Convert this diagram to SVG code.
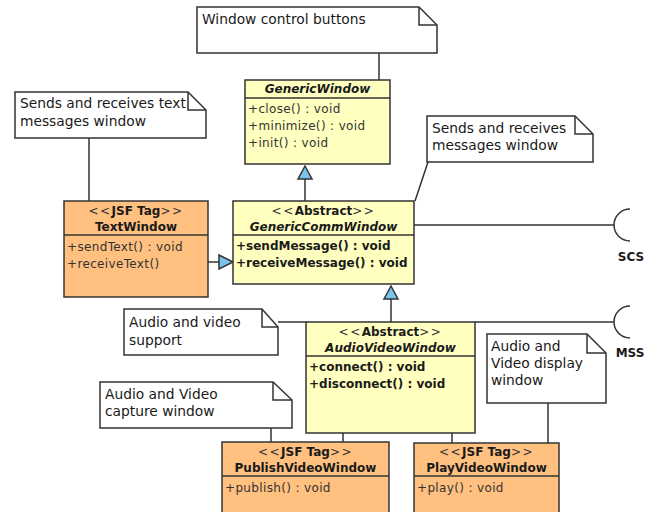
<svg xmlns="http://www.w3.org/2000/svg" width="652" height="512" viewBox="0 0 652 512">
<style>
text{font-family:"DejaVu Sans","Liberation Sans",sans-serif;fill:#1a1a1a}
.note{fill:#fff;stroke:#333;stroke-width:1.5}
.nt{font-size:13.8px}
.cls{stroke:#333;stroke-width:1.5}
.yel{fill:#ffffc0}
.org{fill:#ffc080}
.div{stroke:#333;stroke-width:1.5}
.op{font-size:12px;fill:#333;letter-spacing:0.35px}
.opb{font-size:12px;font-weight:bold}
.st{font-size:12px;text-anchor:middle}
.ab{letter-spacing:1.5px;fill:#333}
.b{font-weight:bold}
.bi{font-weight:bold;font-style:italic}
.ln{stroke:#333;stroke-width:1.5;fill:none}
.tri{fill:#78c4ea;stroke:#333;stroke-width:1.5}
.lbl{font-size:12px;font-weight:bold;text-anchor:middle}
</style>
<g id="connectors">
<line class="ln" x1="379" y1="53" x2="379" y2="80"/>
<line class="ln" x1="89" y1="138" x2="89" y2="201"/>
<line class="ln" x1="428" y1="162" x2="415" y2="201"/>
<line class="ln" x1="305" y1="179" x2="305" y2="201"/>
<polygon class="tri" points="305,166 298,179 312,179"/>
<line class="ln" x1="208" y1="262" x2="219" y2="262"/>
<polygon class="tri" points="233,262 219,255 219,269"/>
<line class="ln" x1="414" y1="225" x2="614" y2="225"/>
<path class="ln" d="M630 209 A16 16 0 0 0 630 241"/>
<text class="lbl" x="631" y="261">SCS</text>
<line class="ln" x1="391" y1="299" x2="391" y2="322"/>
<polygon class="tri" points="391,286 384,299 398,299"/>
<line class="ln" x1="278" y1="322" x2="306" y2="322"/>
<line class="ln" x1="475" y1="322" x2="614" y2="322"/>
<path class="ln" d="M630 306 A16 16 0 0 0 630 338"/>
<text class="lbl" x="630" y="357">MSS</text>
<line class="ln" x1="343" y1="421" x2="343" y2="442"/>
<polygon class="tri" points="343,407 336,421 350,421"/>
<line class="ln" x1="452" y1="421" x2="452" y2="443"/>
<polygon class="tri" points="452,407 445,421 459,421"/>
<line class="ln" x1="271" y1="428" x2="271" y2="442"/>
<line class="ln" x1="548" y1="403" x2="548" y2="443"/>
</g>
<g id="note-window-control">
<path class="note" d="M197 7 H419 L437 25 V53 H197 Z"/>
<path class="ln" d="M419 7 V25 H437"/>
<text class="nt" x="202" y="24">Window control buttons</text>
</g>
<g id="note-text-messages">
<path class="note" d="M15 92 H188 L206 110 V138 H15 Z"/>
<path class="ln" d="M188 92 V110 H206"/>
<text class="nt" x="20" y="108">Sends and receives text</text>
<text class="nt" x="20" y="126">messages window</text>
</g>
<g id="note-messages">
<path class="note" d="M427 116 H575 L593 134 V162 H427 Z"/>
<path class="ln" d="M575 116 V134 H593"/>
<text class="nt" x="432" y="133">Sends and receives</text>
<text class="nt" x="432" y="150">messages window</text>
</g>
<g id="note-av-support">
<path class="note" d="M124 309 H262 L278 327 V355 H124 Z"/>
<path class="ln" d="M262 309 V327 H278"/>
<text class="nt" x="129" y="327">Audio and video</text>
<text class="nt" x="129" y="345">support</text>
</g>
<g id="note-av-display">
<path class="note" d="M487 334 H587 L606 353 V403 H487 Z"/>
<path class="ln" d="M587 334 V353 H606"/>
<text class="nt" x="491" y="351">Audio and</text>
<text class="nt" x="491" y="368">Video display</text>
<text class="nt" x="491" y="385">window</text>
</g>
<g id="note-av-capture">
<path class="note" d="M100 382 H273 L292 400 V428 H100 Z"/>
<path class="ln" d="M273 382 V400 H292"/>
<text class="nt" x="105" y="399">Audio and Video</text>
<text class="nt" x="105" y="416">capture window</text>
</g>
<g id="GenericWindow">
<rect class="cls yel" x="245" y="80" width="145" height="84"/>
<line class="div" x1="245" y1="98" x2="390" y2="98"/>
<text class="st bi" x="317.5" y="93">GenericWindow</text>
<text class="op" x="248" y="113">+close() : void</text>
<text class="op" x="248" y="130">+minimize() : void</text>
<text class="op" x="248" y="147">+init() : void</text>
</g>
<g id="GenericCommWindow">
<rect class="cls yel" x="233" y="201" width="181" height="83"/>
<line class="div" x1="233" y1="235" x2="414" y2="235"/>
<text class="st" x="323.5" y="215"><tspan class="ab">&lt;&lt;</tspan><tspan class="b">Abstract</tspan><tspan class="ab">&gt;&gt;</tspan></text>
<text class="st bi" x="323.5" y="231">GenericCommWindow</text>
<text class="opb" x="236" y="250">+sendMessage() : void</text>
<text class="opb" x="236" y="267">+receiveMessage() : void</text>
</g>
<g id="TextWindow">
<rect class="cls org" x="64" y="201" width="144" height="96"/>
<line class="div" x1="64" y1="235" x2="208" y2="235"/>
<text class="st" x="136" y="215"><tspan class="ab">&lt;&lt;</tspan><tspan class="b">JSF Tag</tspan><tspan class="ab">&gt;&gt;</tspan></text>
<text class="st b" x="136" y="231">TextWindow</text>
<text class="op" x="67" y="251">+sendText() : void</text>
<text class="op" x="67" y="268">+receiveText()</text>
</g>
<g id="AudioVideoWindow">
<rect class="cls yel" x="306" y="322" width="169" height="111"/>
<line class="div" x1="306" y1="356" x2="475" y2="356"/>
<text class="st" x="390.5" y="336"><tspan class="ab">&lt;&lt;</tspan><tspan class="b">Abstract</tspan><tspan class="ab">&gt;&gt;</tspan></text>
<text class="st bi" x="390.5" y="352">AudioVideoWindow</text>
<text class="opb" x="309" y="371">+connect() : void</text>
<text class="opb" x="309" y="388">+disconnect() : void</text>
</g>
<g id="PublishVideoWindow">
<rect class="cls org" x="222" y="442" width="167" height="80"/>
<line class="div" x1="222" y1="476" x2="389" y2="476"/>
<text class="st" x="305.5" y="456"><tspan class="ab">&lt;&lt;</tspan><tspan class="b">JSF Tag</tspan><tspan class="ab">&gt;&gt;</tspan></text>
<text class="st b" x="305.5" y="472">PublishVideoWindow</text>
<text class="op" x="225" y="492">+publish() : void</text>
</g>
<g id="PlayVideoWindow">
<rect class="cls org" x="414" y="443" width="145" height="80"/>
<line class="div" x1="414" y1="476" x2="559" y2="476"/>
<text class="st" x="486.5" y="456"><tspan class="ab">&lt;&lt;</tspan><tspan class="b">JSF Tag</tspan><tspan class="ab">&gt;&gt;</tspan></text>
<text class="st b" x="486.5" y="472">PlayVideoWindow</text>
<text class="op" x="417" y="492">+play() : void</text>
</g>
</svg>
